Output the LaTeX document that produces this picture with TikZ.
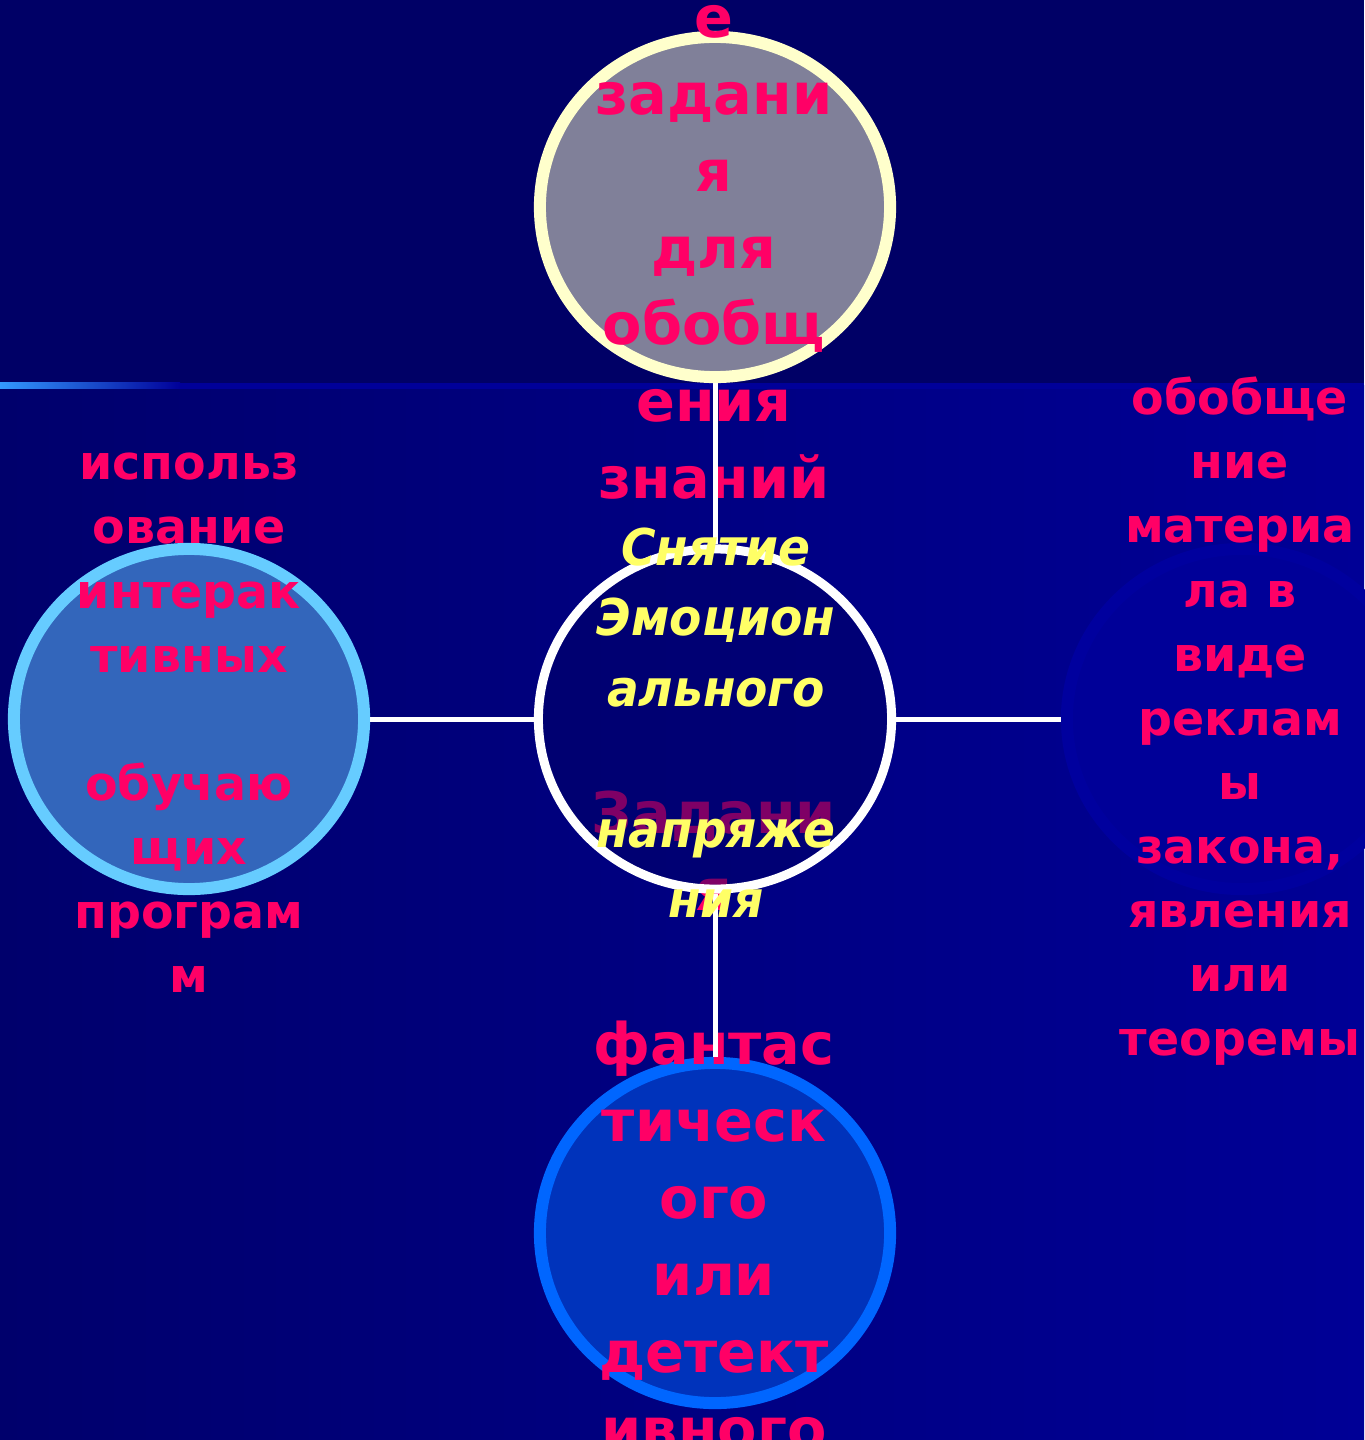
\documentclass[tikz,border=0pt]{standalone}
\usepackage{fontspec}
\usepackage{graphicx}
\setmainfont{DejaVu Sans}
\usetikzlibrary{shapes.geometric}

\definecolor{fonverh}{HTML}{000066}
\definecolor{fonlevo}{HTML}{00006C}
\definecolor{fonpravo}{HTML}{000096}
\definecolor{rosa}{HTML}{FF0066}
\definecolor{zholt}{HTML}{FFFF66}
\definecolor{seryj}{HTML}{808099}
\definecolor{krem}{HTML}{FFFFCC}
\definecolor{goluboj}{HTML}{66CCFF}
\definecolor{sinij}{HTML}{3366BB}
\definecolor{yarkij}{HTML}{0066FF}
\definecolor{kobalt}{HTML}{0033BB}
\definecolor{temnyj}{HTML}{000098}
\definecolor{kaima}{HTML}{00009E}
\definecolor{liniya}{HTML}{3399FF}
\definecolor{liniyatem}{HTML}{000099}

\tikzset{
  krug/.style={ellipse, minimum width=3.5cm, minimum height=3.4cm, inner sep=0pt, line width=1.2mm},
  krupno/.style={anchor=base, text=rosa, font=\fontsize{16.3pt}{20pt}\selectfont\bfseries},
  melko/.style={anchor=base, text=rosa, font=\fontsize{13.5pt}{16pt}\selectfont\bfseries},
  kursiv/.style={anchor=base, text=zholt, font=\fontsize{14.4pt}{18pt}\selectfont\bfseries\itshape},
  svyaz/.style={draw=white, line width=0.5mm}
}

\begin{document}
\begin{tikzpicture}[x=0.01cm, y=-0.01cm]
    \useasboundingbox (0,0) rectangle (1364,1440);
    % Фон
    \fill[fonverh] (0,0) rectangle (1364,386);
    \shade[left color=fonlevo, right color=fonpravo] (0,386) rectangle (1364,1440);
    % Разделительная линия
    \shade[left color=liniya, right color=liniyatem] (0,383) rectangle (180,389);
    \fill[liniyatem] (180,383) rectangle (1364,389);
    % Круги
    \node[krug, draw=krem, fill=seryj] (verh) at (715,207) {};
    \node[krug, draw=goluboj, fill=sinij] (levo) at (189,719) {};
    \node[krug, draw=kaima, fill=temnyj] (pravo) at (1242,719) {};
    \node[krug, draw=yarkij, fill=kobalt] (niz) at (715,1233) {};
    % Тексты у кругов
    \foreach \t [count=\i] in {е,задани,я,для,обобщ,ения,знаний}
        \node[krupno] (tverh-\i) at (714,{38+76.7*(\i-1)}) {\t};
    \foreach \t [count=\i] in {использ,ование,интерак,тивных,{},обучаю,щих,програм,м}
        \node[melko] (tlevo-\i) at (189,{480+64*(\i-1)}) {\t};
    \foreach \t [count=\i] in {обобще,ние,материа,ла в,виде,реклам,ы,{закона,},явления,или,теоремы}
        \node[melko] (tpravo-\i) at (1240,{415+64*(\i-1)}) {\t};
    \foreach \t [count=\i] in {Задани,я,{},фантас,тическ,ого,или,детект,ивного}
        \node[krupno] (tniz-\i) at (714,{833+77*(\i-1)}) {\t};
    % Центральный круг
    \node[krug, draw=white, line width=0.9mm, fill=fonverh, fill opacity=0.5,
          minimum width=3.53cm, minimum height=3.4cm] (centr) at (715,719) {};
    % Связи
    \draw[svyaz] (verh) -- (centr);
    \draw[svyaz] (levo) -- (centr);
    \draw[svyaz] (centr) -- (pravo);
    \draw[svyaz] (centr) -- (niz);
    % Текст в центре
    \foreach \t [count=\i] in {Снятие,Эмоцион,ального,{},напряже,ния}
        \node[kursiv] (tcentr-\i) at (716,{565+70.5*(\i-1)}) {\scalebox{0.93}[1]{\t}};
\end{tikzpicture}
\end{document}
